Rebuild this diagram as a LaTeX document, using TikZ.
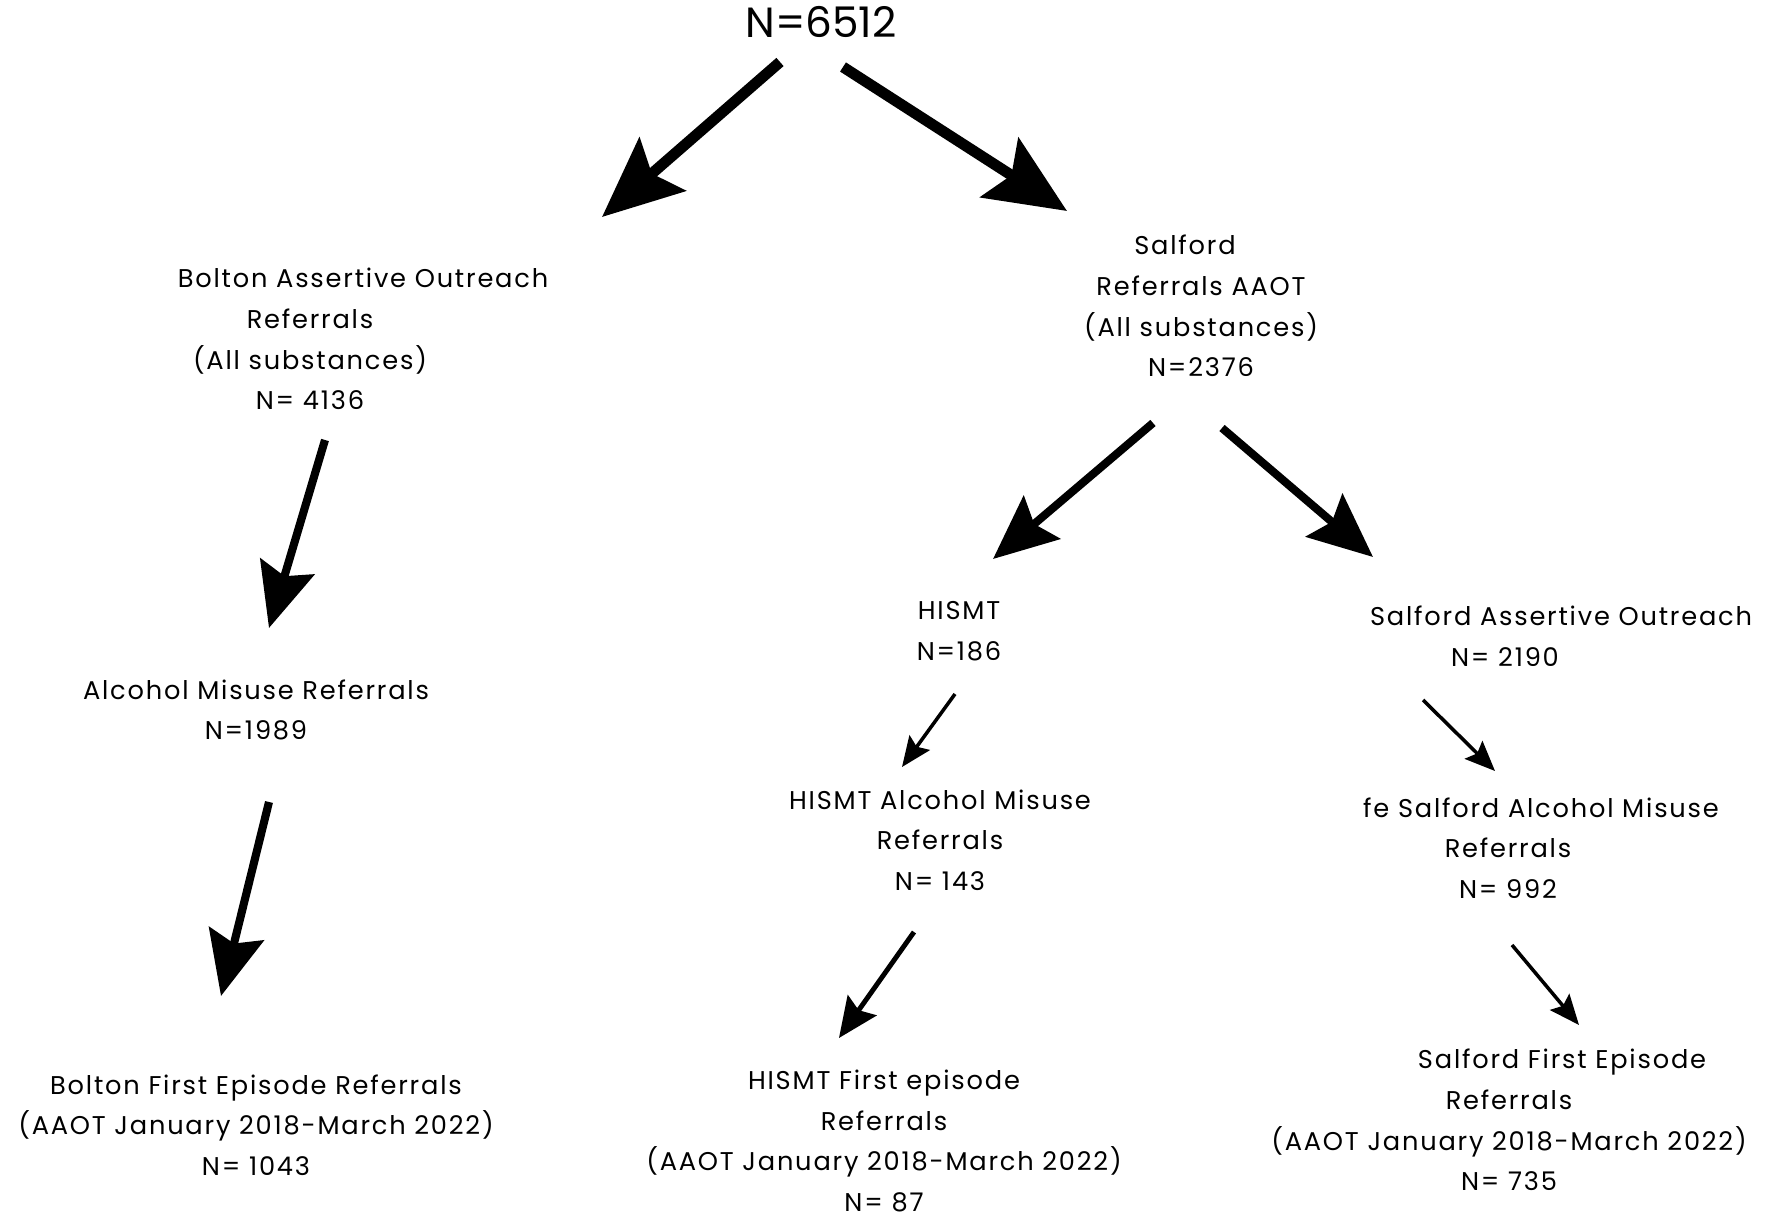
\documentclass[tikz,border=0pt]{standalone}
\usepackage{fontspec}
\setmainfont{Poppins}[LetterSpace=7]
\newfontfamily\totalfont{Poppins}
\usetikzlibrary{arrows.meta}

\begin{document}
\begin{tikzpicture}[x=0.01cm, y=-0.01cm,
	box/.style={align=center, inner sep=0pt, font=\fontsize{7.3}{11.55}\selectfont},
	bigarrow/.style={line width=3.1pt, -{Stealth[length=0.8cm, width=0.7cm, inset=0.14cm]}},
	midarrow/.style={line width=2.3pt, -{Stealth[length=0.64cm, width=0.56cm, inset=0.1cm]}},
	smallarrow/.style={line width=1.4pt, -{Stealth[length=0.4cm, width=0.35cm, inset=0.06cm]}},
	thinarrow/.style={line width=1pt, -{Stealth[length=0.3cm, width=0.25cm, inset=0.05cm]}}]
	\useasboundingbox (0,0) rectangle (1769,1216);
	% Nodes
	\node (total) at (821,22) [inner sep=0pt, font=\totalfont\fontsize{12}{15}\selectfont] {N=6512};
	\node (bolton) at (310,339) [box] {\hspace*{1.06cm}Bolton Assertive Outreach\\Referrals\\(All substances)\\N= 4136};
	\node (salford) at (1201,306) [box] {Salford\hspace*{0.32cm}\\Referrals AAOT\\(All substances)\\N=2376};
	\node (boltonalc) at (256,710) [box] {Alcohol Misuse Referrals\\N=1989};
	\node (boltonfirst) at (256,1125) [box] {Bolton First Episode Referrals\\(AAOT January 2018-March 2022)\\N= 1043};
	\node (hismt) at (959,631) [box] {HISMT\\N=186};
	\node (salfordao) at (1505,636) [box] {\hspace*{1.12cm}Salford Assertive Outreach\\N= 2190};
	\node (hismtalc) at (940,840) [box] {HISMT Alcohol Misuse\\Referrals\\N= 143};
	\node (salfordalc) at (1508,848) [box] {\hspace*{0.66cm}fe Salford Alcohol Misuse\\Referrals\\N= 992};
	\node (hismtfirst) at (884,1141) [box] {HISMT First episode\\Referrals\\(AAOT January 2018-March 2022)\\N= 87};
	\node (salfordfirst) at (1509,1120) [box] {\hspace*{1.06cm}Salford First Episode\\Referrals\\(AAOT January 2018-March 2022)\\N= 735};
	% Arrow ends
	\coordinate (totalL) at (780,62);
	\coordinate (totalR) at (843,67);
	\coordinate (boltonIn) at (602,217);
	\coordinate (salfordIn) at (1067,211);
	\coordinate (boltonOut) at (325,440);
	\coordinate (boltonalcIn) at (269,628);
	\coordinate (boltonalcOut) at (269,802);
	\coordinate (boltonfirstIn) at (221,996);
	\coordinate (salfordL) at (1153,423);
	\coordinate (salfordR) at (1222,428);
	\coordinate (hismtIn) at (993,559);
	\coordinate (salfordaoIn) at (1373,557);
	\coordinate (hismtOut) at (955,694);
	\coordinate (hismtalcIn) at (902,767);
	\coordinate (salfordaoOut) at (1423,700);
	\coordinate (salfordalcIn) at (1495,771);
	\coordinate (hismtalcOut) at (914,932);
	\coordinate (hismtfirstIn) at (839,1038);
	\coordinate (salfordalcOut) at (1512,945);
	\coordinate (salfordfirstIn) at (1579,1025);
	% Arrows
	\draw[bigarrow] (totalL) -- (boltonIn);
	\draw[bigarrow] (totalR) -- (salfordIn);
	\foreach \src/\dst in {boltonOut/boltonalcIn, boltonalcOut/boltonfirstIn, salfordL/hismtIn, salfordR/salfordaoIn}
	{\draw[midarrow] (\src) -- (\dst);}
	\draw[smallarrow] (hismtalcOut) -- (hismtfirstIn);
	\foreach \src/\dst in {hismtOut/hismtalcIn, salfordaoOut/salfordalcIn, salfordalcOut/salfordfirstIn}
	{\draw[thinarrow] (\src) -- (\dst);}
\end{tikzpicture}
\end{document}
